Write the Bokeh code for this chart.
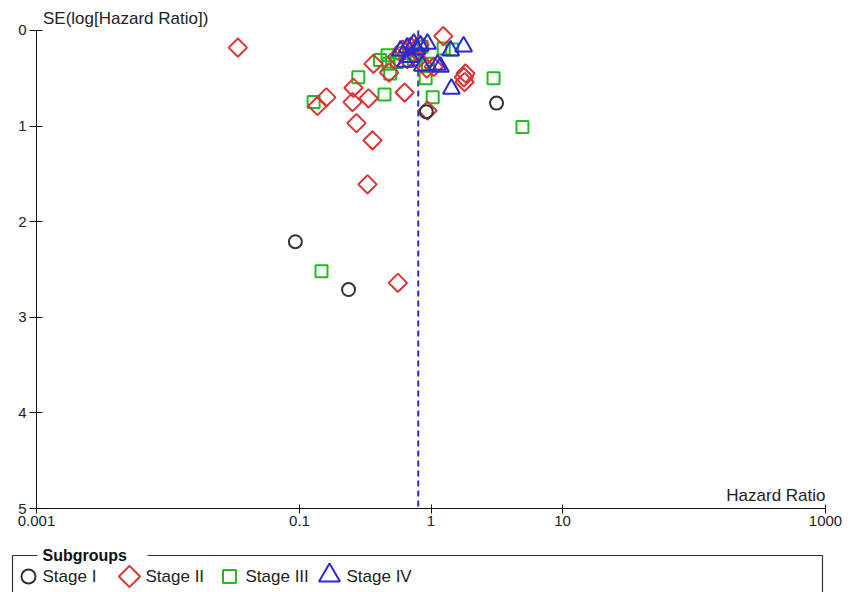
import math
from bokeh.plotting import figure
from bokeh.layouts import column
from bokeh.models import Range1d, FixedTicker, CustomJSTickFormatter, Label
from bokeh.core.properties import value
from bokeh.embed import file_html
from bokeh.resources import INLINE

FONT = "Liberation Sans"

# ---- data: hazard ratio and SE(log HR) per subgroup ----
stage1_hr = [0.093, 0.236, 3.15, 0.92]
stage1_se = [2.21, 2.71, 0.76, 0.85]

stage2_hr = [0.034, 0.137, 0.16, 0.257, 0.253, 0.335, 0.63, 0.271, 0.359, 0.329,
             0.94, 0.56, 1.83, 1.80, 1.78, 1.24, 0.365, 0.48, 0.61, 0.70,
             0.78, 0.86, 0.93, 0.66, 0.82, 0.55, 1.05]
stage2_se = [0.18, 0.79, 0.70, 0.60, 0.75, 0.71, 0.65, 0.97, 1.15, 1.61,
             0.84, 2.64, 0.45, 0.54, 0.49, 0.06, 0.35, 0.44, 0.20, 0.17,
             0.22, 0.35, 0.40, 0.30, 0.15, 0.28, 0.38]

stage3_hr = [0.128, 0.147, 0.28, 0.443, 1.03, 2.99, 4.96, 0.91, 1.25, 0.467,
             0.41, 0.475, 0.49, 0.68, 0.78, 0.74, 0.85, 1.45, 0.95, 0.60, 0.55]
stage3_se = [0.75, 2.52, 0.49, 0.67, 0.70, 0.50, 1.01, 0.50, 0.19, 0.26,
             0.31, 0.35, 0.45, 0.20, 0.25, 0.30, 0.17, 0.20, 0.35, 0.24, 0.33]

stage4_hr = [0.586, 0.74, 0.64, 0.86, 0.94, 1.18, 1.41, 1.77, 1.43, 0.66,
             0.78, 0.83, 1.12, 0.70]
stage4_se = [0.21, 0.14, 0.33, 0.37, 0.14, 0.38, 0.21, 0.17, 0.61, 0.18,
             0.20, 0.16, 0.36, 0.28]

pooled_hr = 0.80
x_ticks = [0.001, 0.1, 1, 10, 1000]
y_ticks = [0, 1, 2, 3, 4, 5]
legend_labels = ["Stage I", "Stage II", "Stage III", "Stage IV"]

C1, C2, C3, C4 = "#333333", "#dd3333", "#22bb22", "#2a2ad0"

# ---- main funnel plot ----
p = figure(width=856, height=540, x_axis_type="log",
           x_range=Range1d(0.001, 1000), y_range=Range1d(5, -0.25),
           output_backend="svg", toolbar_location=None,
           min_border_left=36, min_border_right=31,
           min_border_top=6, min_border_bottom=32)
p.frame_align = False
p.outline_line_color = None
p.xgrid.visible = False
p.ygrid.visible = False
p.background_fill_color = "white"

p.xaxis.ticker = FixedTicker(ticks=x_ticks, minor_ticks=[])
p.xaxis.formatter = CustomJSTickFormatter(code="return tick.toString();")
p.yaxis.ticker = FixedTicker(ticks=y_ticks, minor_ticks=[])
p.yaxis.bounds = (0, 5)
for ax in (p.xaxis, p.yaxis):
    ax.axis_line_color = "#111111"
    ax.major_tick_line_color = "#111111"
    ax.minor_tick_line_color = None
    ax.major_label_text_font = FONT
    ax.major_label_text_font_size = "15px"
    ax.major_label_text_color = "#222222"
p.xaxis.major_tick_in = 4
p.xaxis.major_tick_out = 5
p.xaxis.major_label_standoff = 2
p.yaxis.major_tick_in = 6
p.yaxis.major_tick_out = 7
p.yaxis.major_label_standoff = 3

p.segment(x0=[pooled_hr], y0=[0], x1=[pooled_hr], y1=[5],
          line_color="#2a2ad0", line_width=2, line_dash="6 4")

p.scatter(stage3_hr, stage3_se, marker="square", size=12, fill_color=None,
          line_color=C3, line_width=2)
p.scatter(stage2_hr, stage2_se, marker="square", angle=math.pi / 4, size=13,
          fill_color=None, line_color=C2, line_width=2)
p.scatter(stage1_hr, stage1_se, marker="circle", size=13, fill_color=None,
          line_color=C1, line_width=2)
p.scatter(stage4_hr, stage4_se, marker="triangle", size=17, fill_color=None,
          line_color=C4, line_width=2)

p.add_layout(Label(x=0.00112, y=-0.125, text="SE(log[Hazard Ratio])",
                   text_font=FONT, text_font_size="17px", text_color="#222222",
                   text_baseline="middle", text_align="left"))
p.add_layout(Label(x=1000, y=4.86, text="Hazard Ratio",
                   text_font=FONT, text_font_size="17px", text_color="#222222",
                   text_baseline="middle", text_align="right"))

# ---- legend box (pixel-like coordinates) ----
lg = figure(width=856, height=52, x_range=Range1d(0, 856), y_range=Range1d(52, 0),
            output_backend="svg", toolbar_location=None,
            min_border=0, min_border_left=0, min_border_right=0,
            min_border_top=0, min_border_bottom=0)
lg.frame_align = False
lg.axis.visible = False
lg.xgrid.visible = False
lg.ygrid.visible = False
lg.outline_line_color = None

lg.multi_line(xs=[[12, 12, 37], [147, 822, 822]], ys=[[60, 15, 15], [15, 15, 60]],
              line_color="#333333", line_width=1.2)
lg.text(x=[42], y=[15], text=["Subgroups"], text_font=value(FONT),
        text_font_style="bold", text_font_size="16px", text_baseline="middle",
        text_color="#111111")

lx = [28, 129, 229, 329]
tx = [42, 145, 245, 346]
ly = 36
lg.scatter([lx[0]], [ly], marker="circle", size=14, fill_color=None, line_color=C1, line_width=2)
lg.scatter([lx[1]], [ly], marker="square", angle=math.pi / 4, size=15, fill_color=None,
           line_color=C2, line_width=2)
lg.scatter([lx[2]], [ly], marker="square", size=13, fill_color=None, line_color=C3, line_width=2)
lg.scatter([lx[3]], [ly - 1], marker="triangle", size=21, fill_color=None, line_color=C4, line_width=2)
lg.text(x=tx, y=[ly] * 4, text=legend_labels, text_font=value(FONT),
        text_font_size="17px", text_baseline="middle", text_color="#222222")

layout = column(p, lg, spacing=0)
open("out.html", "w").write(file_html(layout, INLINE))
